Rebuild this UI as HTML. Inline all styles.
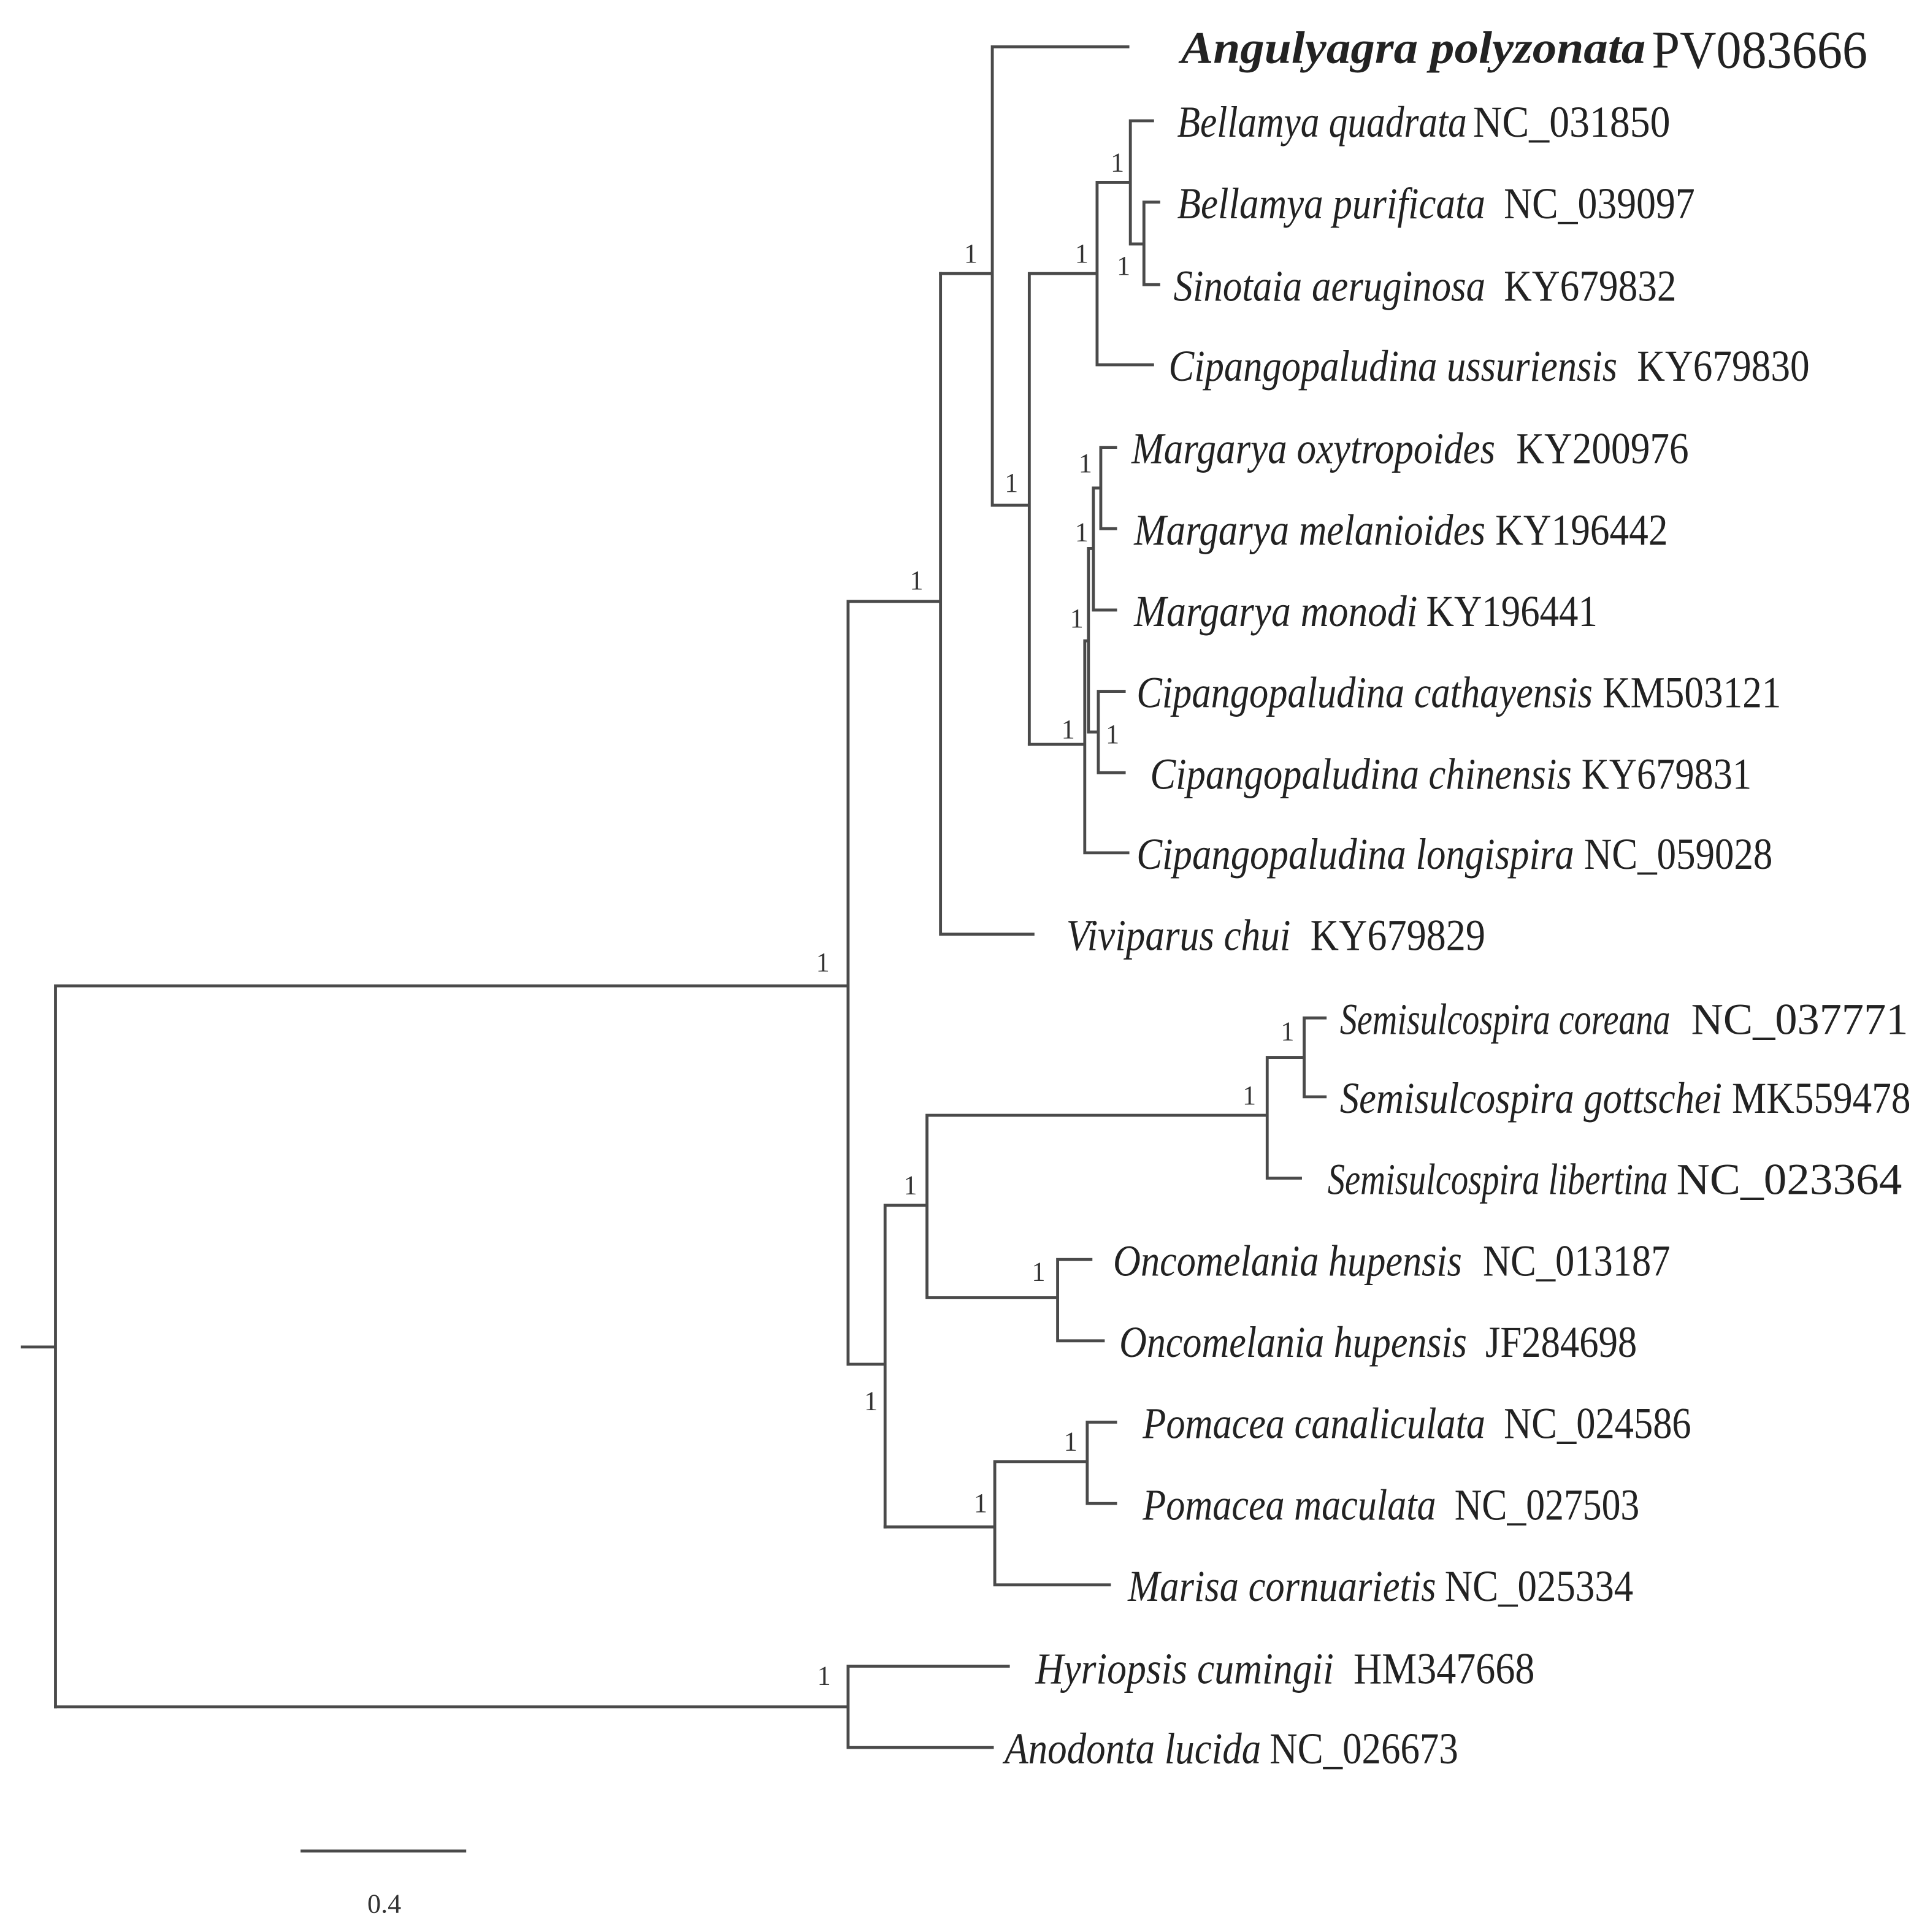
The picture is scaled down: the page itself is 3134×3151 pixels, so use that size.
<!DOCTYPE html>
<html><head><meta charset="utf-8"><style>html,body{margin:0;padding:0;background:#fff}svg{display:block}</style></head>
<body>
<svg width="3134" height="3151" viewBox="0 0 1559.2 1567.7" xmlns="http://www.w3.org/2000/svg">
<g stroke="#4a4a4a" stroke-width="2.4" fill="none" stroke-linecap="square">
<path d="M18 1093H45M45 800V1385M45 800H688M688 488V1107M688 488H763M763 222V758M763 758H838"/>
<path d="M763 222H805M805 38V410M805 38H915M805 410H835M835 222V604M835 222H890M890 148V296M890 296H935M890 148H917M917 98V198M917 98H935M917 198H928M928 164V231M928 164H940M928 231H940"/>
<path d="M835 604H880M880 520V692M880 692H915M880 520H883M883 445V594M883 445H887M887 396V495M887 495H905M887 396H893M893 363V429M893 363H905M893 429H905M883 594H891M891 561V627M891 561H912M891 627H912"/>
<path d="M688 1107H718M718 978V1239M718 978H752M752 905V1053M752 905H1028M1028 858V956M1028 858H1058M1058 826V890M1058 826H1075M1058 890H1075M1028 956H1055M752 1053H858M858 1022V1088M858 1022H885M858 1088H895"/>
<path d="M718 1239H807M807 1186V1286M807 1186H882M882 1154V1220M882 1154H905M882 1220H905M807 1286H900"/>
<path d="M45 1385H688M688 1352V1418M688 1352H818M688 1418H805"/>
<path d="M245 1502H377"/>
</g>
<g font-family="Liberation Serif, serif" fill="#333" font-size="22">
<text x="782" y="213">1</text><text x="738" y="478">1</text><text x="662" y="788">1</text>
<text x="815" y="399">1</text><text x="872" y="213">1</text><text x="861" y="599">1</text>
<text x="901" y="139">1</text><text x="906" y="223">1</text>
<text x="875" y="383">1</text><text x="872" y="439">1</text><text x="868" y="509">1</text><text x="897" y="603">1</text>
<text x="701" y="1144">1</text><text x="733" y="969">1</text><text x="1008" y="896">1</text><text x="1039" y="844">1</text>
<text x="837" y="1039">1</text><text x="790" y="1227">1</text><text x="863" y="1177">1</text><text x="663" y="1367">1</text>
<text x="298" y="1552" font-size="22">0.4</text>
</g>
<g font-family="Liberation Serif, serif" fill="#222" font-size="36">
<text x="958" y="51" font-weight="bold" font-style="italic" font-size="37" textLength="377" lengthAdjust="spacingAndGlyphs">Angulyagra  polyzonata</text>
<text x="1340" y="55" font-size="43" textLength="175" lengthAdjust="spacingAndGlyphs">PV083666</text>
<g font-style="italic">
<text x="955" y="111" textLength="235" lengthAdjust="spacingAndGlyphs">Bellamya quadrata</text>
<text x="955" y="177" textLength="250" lengthAdjust="spacingAndGlyphs">Bellamya purificata</text>
<text x="952" y="244" textLength="253" lengthAdjust="spacingAndGlyphs">Sinotaia aeruginosa</text>
<text x="948" y="309" textLength="364" lengthAdjust="spacingAndGlyphs">Cipangopaludina ussuriensis</text>
<text x="918" y="376" textLength="295" lengthAdjust="spacingAndGlyphs">Margarya oxytropoides</text>
<text x="920" y="442" textLength="285" lengthAdjust="spacingAndGlyphs">Margarya melanioides</text>
<text x="920" y="508" textLength="230" lengthAdjust="spacingAndGlyphs">Margarya monodi</text>
<text x="922" y="574" textLength="370" lengthAdjust="spacingAndGlyphs">Cipangopaludina cathayensis</text>
<text x="933" y="640" textLength="342" lengthAdjust="spacingAndGlyphs">Cipangopaludina chinensis</text>
<text x="922" y="705" textLength="355" lengthAdjust="spacingAndGlyphs">Cipangopaludina longispira</text>
<text x="865" y="771" textLength="182" lengthAdjust="spacingAndGlyphs">Viviparus chui</text>
<text x="1087" y="839" textLength="268" lengthAdjust="spacingAndGlyphs">Semisulcospira coreana</text>
<text x="1087" y="903" textLength="310" lengthAdjust="spacingAndGlyphs">Semisulcospira gottschei</text>
<text x="1077" y="969" textLength="276" lengthAdjust="spacingAndGlyphs">Semisulcospira libertina</text>
<text x="903" y="1035" textLength="283" lengthAdjust="spacingAndGlyphs">Oncomelania hupensis</text>
<text x="908" y="1101" textLength="282" lengthAdjust="spacingAndGlyphs">Oncomelania hupensis</text>
<text x="927" y="1167" textLength="278" lengthAdjust="spacingAndGlyphs">Pomacea canaliculata</text>
<text x="927" y="1233" textLength="238" lengthAdjust="spacingAndGlyphs">Pomacea maculata</text>
<text x="915" y="1299" textLength="250" lengthAdjust="spacingAndGlyphs">Marisa cornuarietis</text>
<text x="840" y="1366" textLength="242" lengthAdjust="spacingAndGlyphs">Hyriopsis cumingii</text>
<text x="815" y="1431" textLength="208" lengthAdjust="spacingAndGlyphs">Anodonta lucida</text>
</g>
<text x="1195" y="111" textLength="160" lengthAdjust="spacingAndGlyphs">NC_031850</text>
<text x="1220" y="177" textLength="155" lengthAdjust="spacingAndGlyphs">NC_039097</text>
<text x="1220" y="244" textLength="140" lengthAdjust="spacingAndGlyphs">KY679832</text>
<text x="1328" y="309" textLength="140" lengthAdjust="spacingAndGlyphs">KY679830</text>
<text x="1230" y="376" textLength="140" lengthAdjust="spacingAndGlyphs">KY200976</text>
<text x="1213" y="442" textLength="140" lengthAdjust="spacingAndGlyphs">KY196442</text>
<text x="1157" y="508" textLength="139" lengthAdjust="spacingAndGlyphs">KY196441</text>
<text x="1300" y="574" textLength="145" lengthAdjust="spacingAndGlyphs">KM503121</text>
<text x="1283" y="640" textLength="138" lengthAdjust="spacingAndGlyphs">KY679831</text>
<text x="1285" y="705" textLength="153" lengthAdjust="spacingAndGlyphs">NC_059028</text>
<text x="1063" y="771" textLength="142" lengthAdjust="spacingAndGlyphs">KY679829</text>
<text x="1372" y="839" textLength="176" lengthAdjust="spacingAndGlyphs">NC_037771</text>
<text x="1405" y="903" textLength="145" lengthAdjust="spacingAndGlyphs">MK559478</text>
<text x="1360" y="969" textLength="183" lengthAdjust="spacingAndGlyphs">NC_023364</text>
<text x="1203" y="1035" textLength="152" lengthAdjust="spacingAndGlyphs">NC_013187</text>
<text x="1205" y="1101" textLength="123" lengthAdjust="spacingAndGlyphs">JF284698</text>
<text x="1220" y="1167" textLength="152" lengthAdjust="spacingAndGlyphs">NC_024586</text>
<text x="1180" y="1233" textLength="150" lengthAdjust="spacingAndGlyphs">NC_027503</text>
<text x="1172" y="1299" textLength="153" lengthAdjust="spacingAndGlyphs">NC_025334</text>
<text x="1098" y="1366" textLength="147" lengthAdjust="spacingAndGlyphs">HM347668</text>
<text x="1030" y="1431" textLength="153" lengthAdjust="spacingAndGlyphs">NC_026673</text>
</g>
</svg>
</body></html>
